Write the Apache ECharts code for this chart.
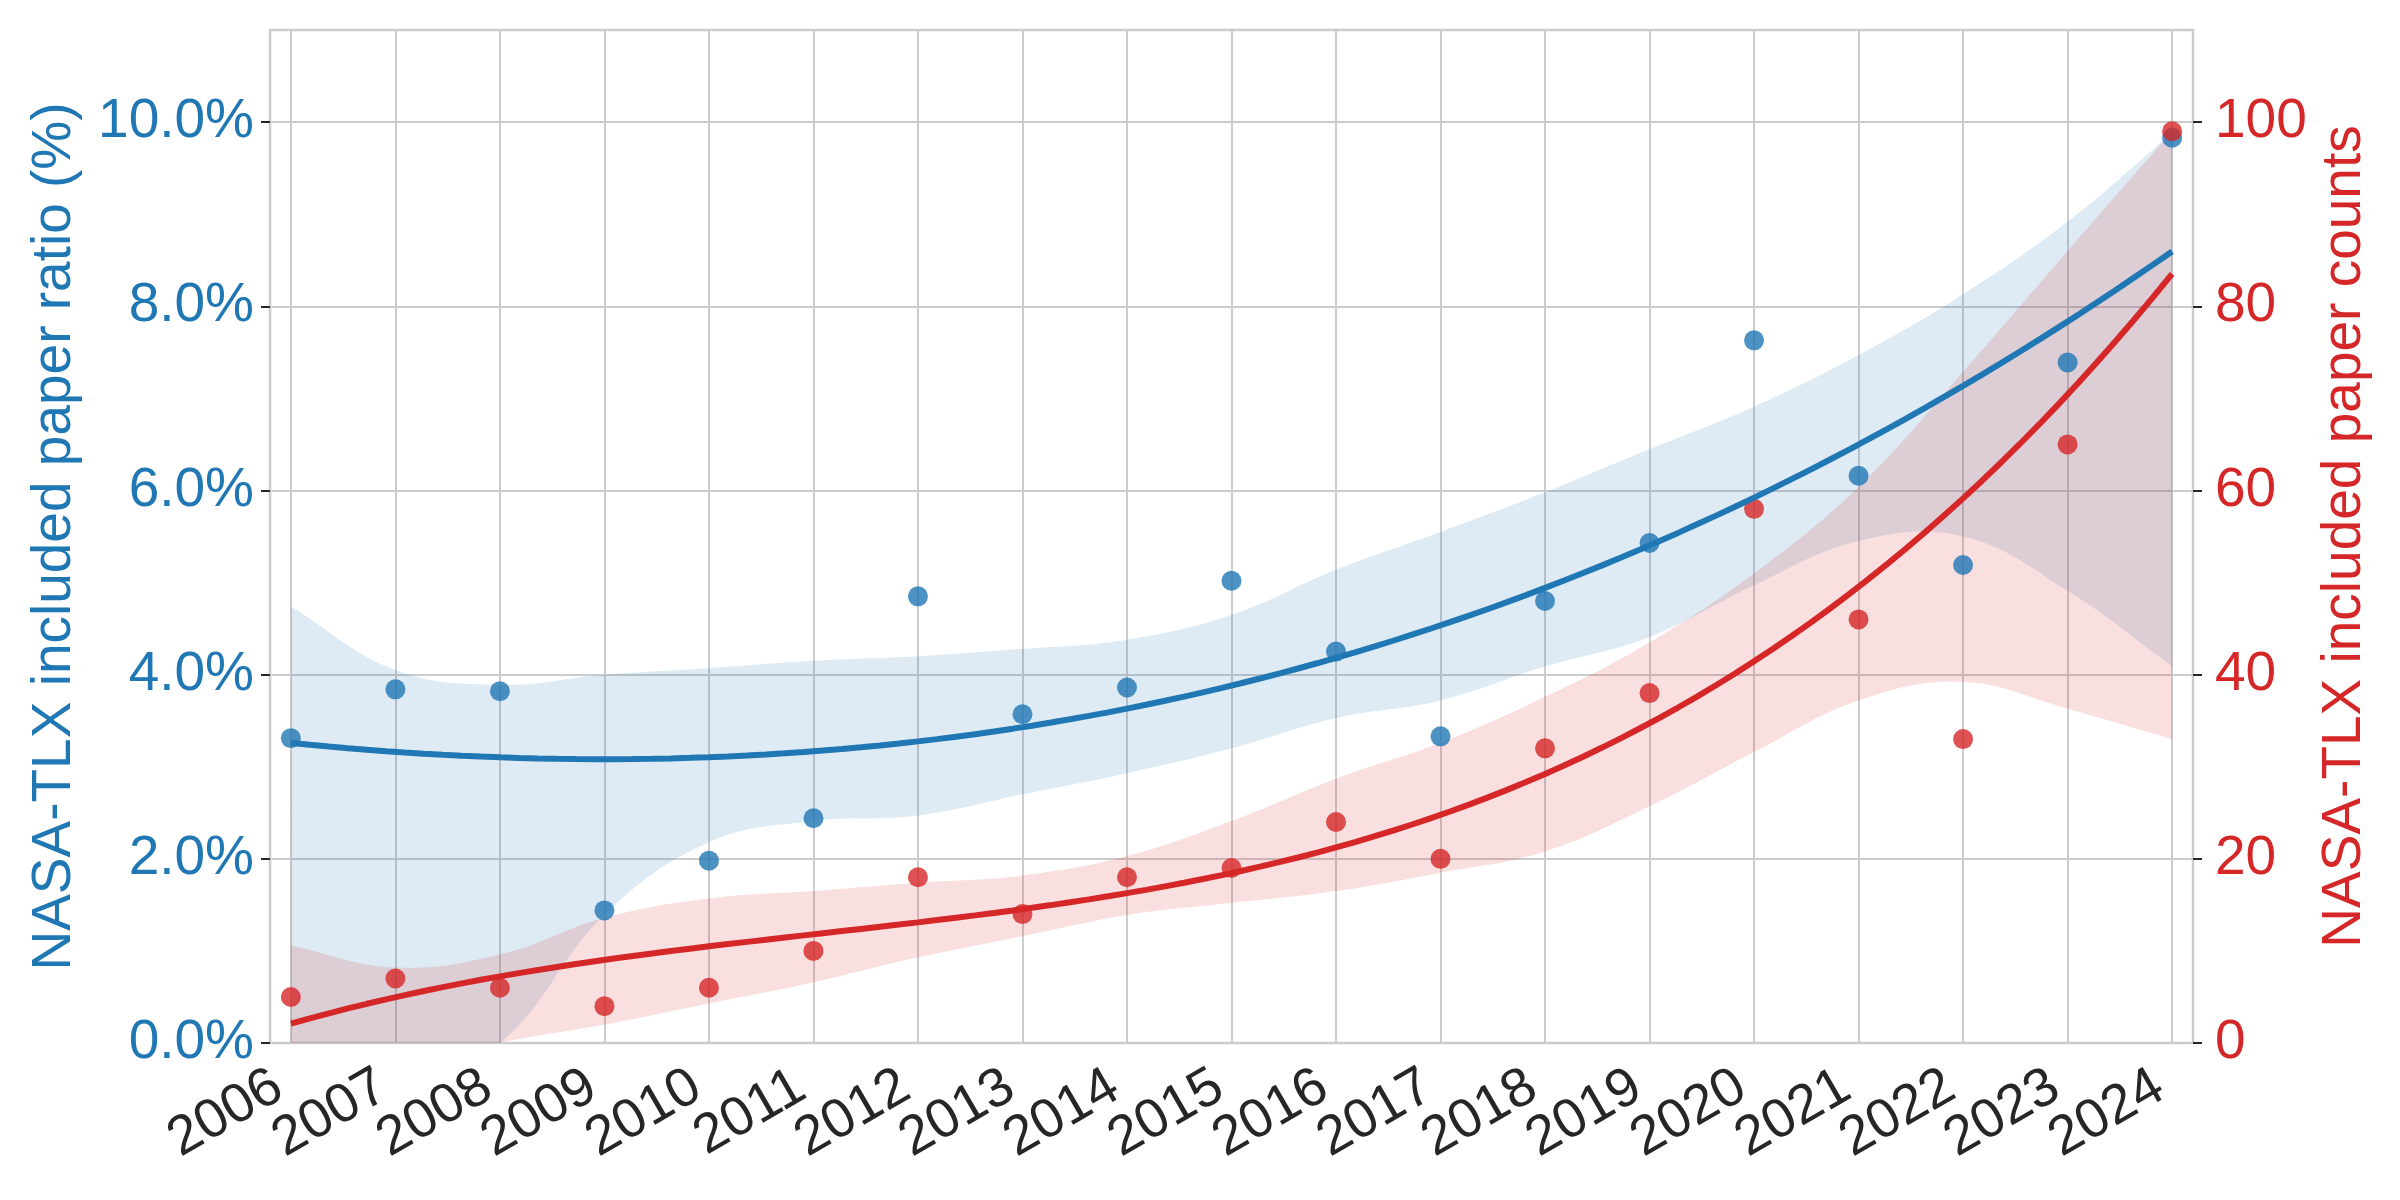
<!DOCTYPE html>
<html>
<head>
<meta charset="utf-8">
<script src="https://cdn.jsdelivr.net/npm/echarts@6/dist/echarts.min.js"></script>
<style>
  html, body { margin: 0; padding: 0; background: #ffffff; }
  #chart { width: 2400px; height: 1200px; }
</style>
</head>
<body>
<div id="chart"></div>
<script>
// data
var years = [2006, 2007, 2008, 2009, 2010, 2011, 2012, 2013, 2014, 2015, 2016, 2017, 2018, 2019, 2020, 2021, 2022, 2023, 2024];
var ratio = [3.31, 3.84, 3.82, 1.44, 1.98, 2.44, 4.85, 3.57, 3.86, 5.02, 4.25, 3.33, 4.80, 5.43, 7.63, 6.16, 5.19, 7.39, 9.83];
var counts = [5, 7, 6, 4, 6, 10, 18, 14, 18, 19, 24, 20, 32, 38, 58, 46, 33, 65, 99];

// confidence bands (bootstrap, read at each year)
var ratioUpper = [4.74, 4.05, 3.89, 4.00, 4.07, 4.15, 4.20, 4.28, 4.38, 4.65, 5.14, 5.55, 5.98, 6.45, 6.91, 7.47, 8.13, 8.92, 9.88];
var ratioLower = [-1.0, -0.5, 0.0, 1.39, 2.18, 2.41, 2.47, 2.70, 2.93, 3.20, 3.53, 3.72, 4.09, 4.41, 4.97, 5.45, 5.50, 4.91, 4.09];
var countsUpper = [10.6, 8.2, 9.6, 13.6, 15.7, 16.5, 17.4, 18.2, 20.3, 24.1, 28.7, 32.6, 37.6, 43.5, 51.0, 60.4, 72.9, 86.0, 99.0];
var countsLower = [-6, -3, 0, 2.0, 4.3, 6.6, 9.3, 11.6, 13.9, 15.2, 16.5, 18.5, 20.8, 25.7, 31.6, 37.2, 39.2, 36.3, 33.0];

var ratioTicks = [0, 2, 4, 6, 8, 10];
var countTicks = [0, 20, 40, 60, 80, 100];

var X_MIN = 2005.8, X_MAX = 2024.2;
var BLUE = '#1f77b4';
var RED = '#d62728';
var FONT = 'Liberation Sans, Arial, sans-serif';

// least squares polynomial fit (like regplot order=3)
function polyfit(xs, ys, order) {
  var n = order + 1, A = [], b = [];
  for (var r = 0; r < n; r++) {
    A.push([]);
    b.push(0);
    for (var c = 0; c < n; c++) A[r].push(0);
  }
  for (var i = 0; i < xs.length; i++) {
    var x = xs[i] - 2015;
    for (var r = 0; r < n; r++) {
      b[r] += ys[i] * Math.pow(x, r);
      for (var c = 0; c < n; c++) A[r][c] += Math.pow(x, r + c);
    }
  }
  for (var k = 0; k < n; k++) {
    for (var r = k + 1; r < n; r++) {
      var f = A[r][k] / A[k][k];
      for (var c = k; c < n; c++) A[r][c] -= f * A[k][c];
      b[r] -= f * b[k];
    }
  }
  var coef = [];
  for (var r = n - 1; r >= 0; r--) {
    var s = b[r];
    for (var c = r + 1; c < n; c++) s -= A[r][c] * coef[c];
    coef[r] = s / A[r][r];
  }
  return coef;
}

function fitLine(xs, ys) {
  var coef = polyfit(xs, ys, 3);
  var out = [];
  var x0 = xs[0], x1 = xs[xs.length - 1];
  for (var i = 0; i < 100; i++) {
    var x = x0 + (x1 - x0) * i / 99;
    var v = 0;
    for (var k = 0; k < coef.length; k++) v += coef[k] * Math.pow(x - 2015, k);
    out.push([x, v]);
  }
  return out;
}

function bandSeries(lower, upper, fill, yIdx) {
  return {
    type: 'custom',
    yAxisIndex: yIdx,
    silent: true,
    data: [[years[0], upper[0]]],
    renderItem: function (params, api) {
      var last = years.length - 1;
      var top = [], bottom = [];
      for (var i = 0; i < years.length; i++) {
        top.push(api.coord([years[i], upper[i]]));
        bottom.push(api.coord([years[i], lower[i]]));
      }
      // doubled end points keep the two ends straight when smoothing
      var pts = [top[0]].concat(top, [top[last], bottom[last]], bottom.slice().reverse(), [bottom[0]]);
      var cs = params.coordSys;
      return {
        type: 'polygon',
        shape: { points: pts, smooth: 0.4 },
        style: { fill: fill },
        clipPath: { type: 'rect', shape: { x: cs.x, y: cs.y, width: cs.width, height: cs.height } }
      };
    }
  };
}

function pairs(ys) {
  return years.map(function (y, i) { return [y, ys[i]]; });
}

var chart = echarts.init(document.getElementById('chart'));

var option = {
  backgroundColor: '#ffffff',
  animation: false,
  grid: {
    left: 270, right: 207, top: 30, bottom: 157,
    show: true, borderColor: '#cccccc', borderWidth: 2.5
  },
  xAxis: {
    type: 'value',
    min: X_MIN,
    max: X_MAX,
    axisLine: { show: false },
    axisTick: { show: false, customValues: years },
    axisLabel: {
      // empty labels at the axis ends take the min/max overlap check, so every year shows
      customValues: [X_MIN].concat(years, [X_MAX]),
      rotate: 30,
      margin: 33,
      padding: [0, 14, 0, 0],
      fontSize: 55,
      fontFamily: FONT,
      color: '#262626',
      formatter: function (v) { return v % 1 === 0 ? String(v) : ''; }
    },
    splitLine: { show: true, lineStyle: { color: '#cccccc', width: 2 } }
  },
  yAxis: [{
    type: 'value',
    position: 'left',
    min: 0,
    max: 11,
    interval: 2,
    name: 'NASA-TLX included paper ratio (%)',
    nameLocation: 'middle',
    nameRotate: 90,
    nameGap: 188,
    nameTextStyle: { color: BLUE, fontSize: 55, fontFamily: FONT },
    axisLine: { show: false },
    axisTick: { show: true, length: 9, customValues: ratioTicks, lineStyle: { color: '#262626', width: 2 } },
    axisLabel: {
      customValues: ratioTicks,
      margin: 16,
      fontSize: 55,
      fontFamily: FONT,
      color: BLUE,
      formatter: function (v) { return v.toFixed(1) + '%'; }
    },
    splitLine: { show: true, lineStyle: { color: '#cccccc', width: 2 } }
  }, {
    type: 'value',
    position: 'right',
    min: 0,
    max: 110,
    interval: 20,
    name: 'NASA-TLX included paper counts',
    nameLocation: 'middle',
    nameRotate: 90,
    nameGap: 122,
    nameTextStyle: { color: RED, fontSize: 55, fontFamily: FONT },
    axisLine: { show: false },
    axisTick: { show: true, length: 9, customValues: countTicks, lineStyle: { color: '#262626', width: 2 } },
    axisLabel: {
      customValues: countTicks,
      margin: 22,
      fontSize: 55,
      fontFamily: FONT,
      color: RED,
      formatter: function (v) { return String(v); }
    },
    splitLine: { show: false }
  }],
  series: [
    bandSeries(ratioLower, ratioUpper, 'rgba(31,119,180,0.15)', 0),
    {
      type: 'line',
      yAxisIndex: 0,
      data: fitLine(years, ratio),
      showSymbol: false,
      silent: true,
      lineStyle: { color: BLUE, width: 6 }
    },
    {
      type: 'scatter',
      yAxisIndex: 0,
      data: pairs(ratio),
      symbolSize: 20,
      itemStyle: { color: BLUE, opacity: 0.8 }
    },
    bandSeries(countsLower, countsUpper, 'rgba(214,39,40,0.15)', 1),
    {
      type: 'line',
      yAxisIndex: 1,
      data: fitLine(years, counts),
      showSymbol: false,
      silent: true,
      lineStyle: { color: RED, width: 6 }
    },
    {
      type: 'scatter',
      yAxisIndex: 1,
      data: pairs(counts),
      symbolSize: 20,
      itemStyle: { color: RED, opacity: 0.8 }
    }
  ]
};

chart.setOption(option);
</script>
</body>
</html>
